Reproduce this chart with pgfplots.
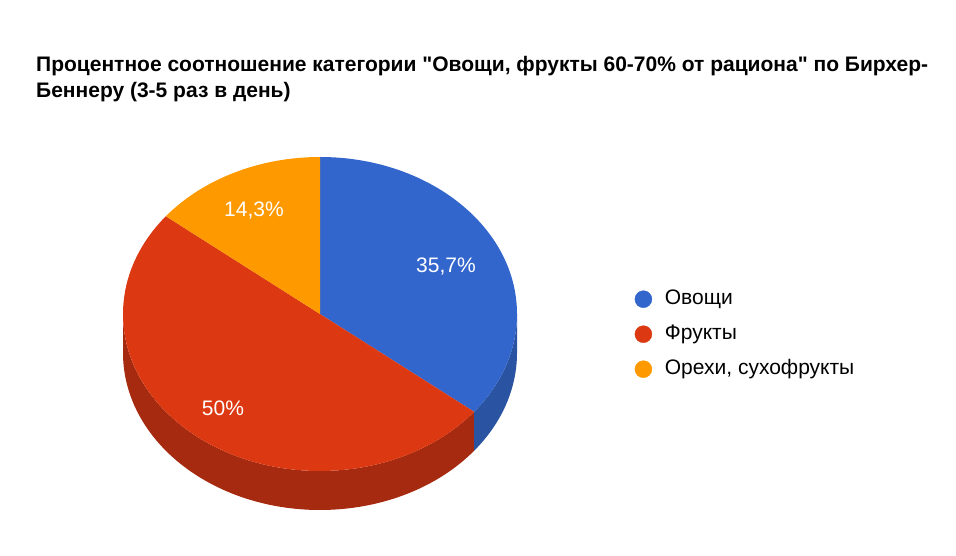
\documentclass[border=0pt]{standalone}
\usepackage{pgfplots}
\usepackage{pgfplotstable}
\pgfplotsset{compat=1.18}
\usepackage{fontspec}
\setmainfont{Liberation Sans}[Ligatures=TeXOff]

\definecolor{cBlue}{HTML}{3366CC}
\definecolor{cRed}{HTML}{DC3912}
\definecolor{cOrange}{HTML}{FF9900}
\definecolor{cBlueSide}{HTML}{2A53A2}
\definecolor{cRedSide}{HTML}{A62A0F}

% share of each category, percent
\pgfplotstableread[col sep=comma]{
name,value
Овощи,35.7
Фрукты,50
Орехи,14.3
}\piedata

\pgfplotstablegetelem{0}{value}\of\piedata \let\vA\pgfplotsretval
\pgfplotstablegetelem{1}{value}\of\piedata \let\vB\pgfplotsretval
\pgfplotstablegetelem{2}{value}\of\piedata \let\vC\pgfplotsretval

% slices run clockwise from 12 o'clock
\pgfmathsetmacro\aA{90}
\pgfmathsetmacro\aB{\aA-3.6*\vA}
\pgfmathsetmacro\aC{\aB-3.6*\vB}
\pgfmathsetmacro\aD{\aC-3.6*\vC}
\pgfmathsetmacro\aBfront{\aB+360}

% pie geometry, in pixels
\def\cx{320}\def\cy{242}\def\rx{197}\def\ry{157}\def\dep{39}
\def\q{\symbol{34}}

\begin{document}
\begin{tikzpicture}
\begin{axis}[
    width=956pt, height=556pt, scale only axis,
    xmin=0, xmax=956, ymin=0, ymax=556,
    hide axis, clip=false,
    legend style={at={(axis cs:634.5,267)}, anchor=north west, draw=none, fill=none,
        font=\fontsize{21}{21}\selectfont, row sep=15pt, inner sep=0pt,
        nodes={inner sep=0pt, text height=15pt, text depth=5pt}},
    legend cell align=left,
    legend image code/.code={\fill[#1] (8.5pt,0pt) circle (8.5pt);
        \path[draw=none, fill=none] (0pt,0pt) rectangle (30pt,0pt);},
]
\path (axis cs:0,0) rectangle (axis cs:956,556);

% sides
\fill[cRedSide] (axis cs:{\cx-\rx},\cy)
    arc[start angle=180, end angle=\aBfront, x radius=\rx, y radius=\ry]
    -- ++(axis direction cs:0,-\dep)
    arc[start angle=\aBfront, end angle=180, x radius=\rx, y radius=\ry] -- cycle;
\fill[cBlueSide] (axis cs:{\cx+\rx*cos(\aBfront)},{\cy+\ry*sin(\aBfront)})
    arc[start angle=\aBfront, end angle=360, x radius=\rx, y radius=\ry]
    -- ++(axis direction cs:0,-\dep)
    arc[start angle=360, end angle=\aBfront, x radius=\rx, y radius=\ry] -- cycle;

% top faces
\fill[cBlue] (axis cs:\cx,\cy) -- (axis cs:{\cx+\rx*cos(\aA)},{\cy+\ry*sin(\aA)})
    arc[start angle=\aA, end angle=\aB, x radius=\rx, y radius=\ry] -- cycle;
\fill[cRed] (axis cs:\cx,\cy) -- (axis cs:{\cx+\rx*cos(\aB)},{\cy+\ry*sin(\aB)})
    arc[start angle=\aB, end angle=\aC, x radius=\rx, y radius=\ry] -- cycle;
\fill[cOrange] (axis cs:\cx,\cy) -- (axis cs:{\cx+\rx*cos(\aC)},{\cy+\ry*sin(\aC)})
    arc[start angle=\aC, end angle=\aD, x radius=\rx, y radius=\ry] -- cycle;

% slice labels
\node[text=white, font=\fontsize{21}{21}\selectfont] at (axis cs:446,289) {35,7\%};
\node[text=white, font=\fontsize{21}{21}\selectfont] at (axis cs:223,148) {50\%};
\node[text=white, font=\fontsize{21}{21}\selectfont] at (axis cs:254,345) {14,3\%};

% title
\node[anchor=base west, inner sep=0pt, font=\bfseries\fontsize{21}{21}\selectfont] at (axis cs:36,484)
    {Процентное соотношение категории \q Овощи, фрукты 60-70\% от рациона\q{} по Бирхер-};
\node[anchor=base west, inner sep=0pt, font=\bfseries\fontsize{21}{21}\selectfont] at (axis cs:36,458)
    {Беннеру (3-5 раз в день)};

\addlegendimage{cBlue}
\addlegendentry{Овощи}
\addlegendimage{cRed}
\addlegendentry{Фрукты}
\addlegendimage{cOrange}
\addlegendentry{Орехи, сухофрукты}
\end{axis}
\end{tikzpicture}
\end{document}
